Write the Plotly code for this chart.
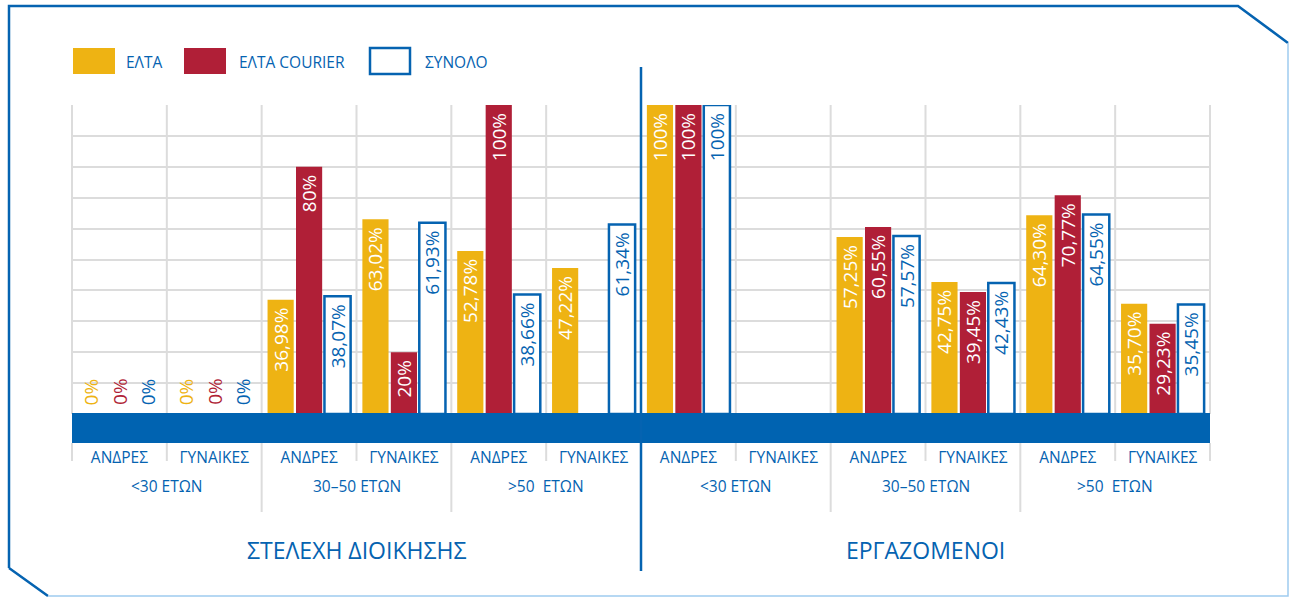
import plotly.graph_objects as go

# ---- data -------------------------------------------------------------
sections = ["ΣΤΕΛΕΧΗ ΔΙΟΙΚΗΣΗΣ", "ΕΡΓΑΖΟΜΕΝΟΙ"]
age_bands = ["<30 ΕΤΩΝ", "30–50 ΕΤΩΝ", ">50\u00a0 ΕΤΩΝ"] * 2
genders = ["ΑΝΔΡΕΣ", "ΓΥΝΑΙΚΕΣ"] * 6
series_names = ["ΕΛΤΑ", "ΕΛΤΑ COURIER", "ΣΥΝΟΛΟ"]

elta = [0, 0, 36.98, 63.02, 52.78, 47.22, 100, None, 57.25, 42.75, 64.30, 35.70]
elta_courier = [0, 0, 80, 20, 100, None, 100, None, 60.55, 39.45, 70.77, 29.23]
synolo = [0, 0, 38.07, 61.93, 38.66, 61.34, 100, None, 57.57, 42.43, 64.55, 35.45]

# ---- style ------------------------------------------------------------
YELLOW = "#EEB313"
RED = "#B01F37"
BLUE = "#0563B1"
LIGHT_BLUE = "#9FCBEF"
GRID = "#DCDCDC"
FONT = "Open Sans"
LABEL_SIZE = 19

W, H = 1289, 597
PL, PR, PT, PB = 72, 1210, 105, 414  # plot area in pixels
BARGAP, BARGROUPGAP = 0.1, 0.08


def X(p):
    return (p - PL) / (PR - PL)


def Y(p):
    return (PB - p) / (PB - PT)


def fmt(v):
    if v is None:
        return ""
    if float(v).is_integer():
        return f"{int(v)}%"
    return f"{v:.2f}".replace(".", ",") + "%"


n = len(genders)
xs = list(range(n))

fig = go.Figure()
series = [
    (series_names[0], elta, YELLOW, YELLOW, 0, "white"),
    (series_names[1], elta_courier, RED, RED, 0, "white"),
    (series_names[2], synolo, "white", BLUE, 2.5, BLUE),
]
annotations = []
n_series = len(series)
slot = (1 - BARGAP) / n_series
for t, (name, vals, fill, color, lw, inside_col) in enumerate(series):
    fig.add_trace(go.Bar(
        name=name,
        x=xs,
        y=vals,
        text=[fmt(v) + "\u00a0" if v else "" for v in vals],
        textposition="inside",
        textangle=-90,
        insidetextanchor="end",
        constraintext="none",
        insidetextfont=dict(family=FONT, size=LABEL_SIZE, color=inside_col),
        marker=dict(color=fill,
                    line=dict(color=color if lw else fill,
                              width=[lw if v else 0 for v in vals])),
        hoverinfo="skip",
    ))
    # zero-valued bars have no height, so their labels sit on the baseline
    offset = -(1 - BARGAP) / 2 + (t + 0.5) * slot
    for i, v in enumerate(vals):
        if v == 0:
            annotations.append(dict(text=fmt(v), xref="x", yref="y",
                                    x=i + offset, y=v, xanchor="center", yanchor="bottom",
                                    textangle=-90, yshift=7, showarrow=False,
                                    font=dict(family=FONT, size=LABEL_SIZE, color=color)))

shapes = []
# vertical grid lines on category boundaries
for k in range(n + 1):
    xp = k / n
    if k != n // 2:
        shapes.append(dict(type="line", xref="paper", yref="paper",
                           x0=xp, x1=xp, y0=0, y1=1,
                           line=dict(color=GRID, width=2), layer="below"))
    bottom = 512 if k in (2, 4, 8, 10) else 461
    shapes.append(dict(type="line", xref="paper", yref="paper",
                       x0=xp, x1=xp, y0=Y(443), y1=Y(bottom),
                       line=dict(color=GRID, width=2), layer="below"))

# blue base band
shapes.append(dict(type="rect", xref="paper", yref="paper",
                   x0=0, x1=1, y0=Y(443), y1=Y(413),
                   fillcolor="#0063B1", line=dict(width=0), layer="above"))
# section divider
shapes.append(dict(type="line", xref="paper", yref="paper",
                   x0=0.5, x1=0.5, y0=Y(67), y1=Y(571),
                   line=dict(color=BLUE, width=2.5), layer="above"))

# outer frame with cut corners
shapes.append(dict(type="path", xref="paper", yref="paper",
                   path=(f"M {X(9)},{Y(568)} L {X(9)},{Y(6)} L {X(1238)},{Y(6)} "
                         f"L {X(1288)},{Y(43)} M {X(9)},{Y(568)} L {X(48)},{Y(596)}"),
                   line=dict(color=BLUE, width=2.5), layer="above"))
shapes.append(dict(type="path", xref="paper", yref="paper",
                   path=f"M {X(1288)},{Y(43)} L {X(1288)},{Y(596)} L {X(48)},{Y(596)}",
                   line=dict(color=LIGHT_BLUE, width=1.5), layer="above"))

# legend swatches
legend_boxes = [(73, 115, YELLOW, YELLOW, 0), (184, 226, RED, RED, 0), (370, 410, "white", BLUE, 2.5)]
legend_text_x = [124, 237, 423]
for (x0, x1, fill, col, lw) in legend_boxes:
    shapes.append(dict(type="rect", xref="paper", yref="paper",
                       x0=X(x0), x1=X(x1), y0=Y(74), y1=Y(48),
                       fillcolor=fill, line=dict(color=col, width=lw)))

for name, tx in zip(series_names, legend_text_x):
    annotations.append(dict(text=name, xref="paper", yref="paper",
                            x=X(tx), y=Y(62), xanchor="left", yanchor="middle",
                            showarrow=False, font=dict(family=FONT, size=15.5, color=BLUE)))

for j, band in enumerate(age_bands):
    annotations.append(dict(text=band, xref="x", yref="paper",
                            x=2 * j + 0.5, y=Y(486), xanchor="center", yanchor="middle",
                            showarrow=False, font=dict(family=FONT, size=15.5, color=BLUE)))

for j, sec in enumerate(sections):
    annotations.append(dict(text=sec, xref="x", yref="paper",
                            x=6 * j + 2.5, y=Y(550), xanchor="center", yanchor="middle",
                            showarrow=False, font=dict(family=FONT, size=23, color=BLUE)))

fig.update_layout(
    width=W, height=H,
    margin=dict(l=PL, r=W - PR, t=PT, b=H - PB, pad=0),
    paper_bgcolor="white", plot_bgcolor="white",
    barmode="group", bargap=BARGAP, bargroupgap=BARGROUPGAP,
    showlegend=False,
    shapes=shapes,
    annotations=annotations,
    xaxis=dict(range=[-0.5, n - 0.5], tickmode="array", tickvals=xs, ticktext=genders,
               ticks="", showgrid=False, zeroline=False, showline=False,
               ticklabelstandoff=32,
               tickfont=dict(family=FONT, size=15.5, color=BLUE), fixedrange=True),
    yaxis=dict(range=[0, 100], dtick=10, showticklabels=False, ticks="",
               showgrid=True, gridcolor=GRID, gridwidth=2, zeroline=False,
               showline=False, fixedrange=True),
)

fig.write_html("out.html", config={"displayModeBar": False})
